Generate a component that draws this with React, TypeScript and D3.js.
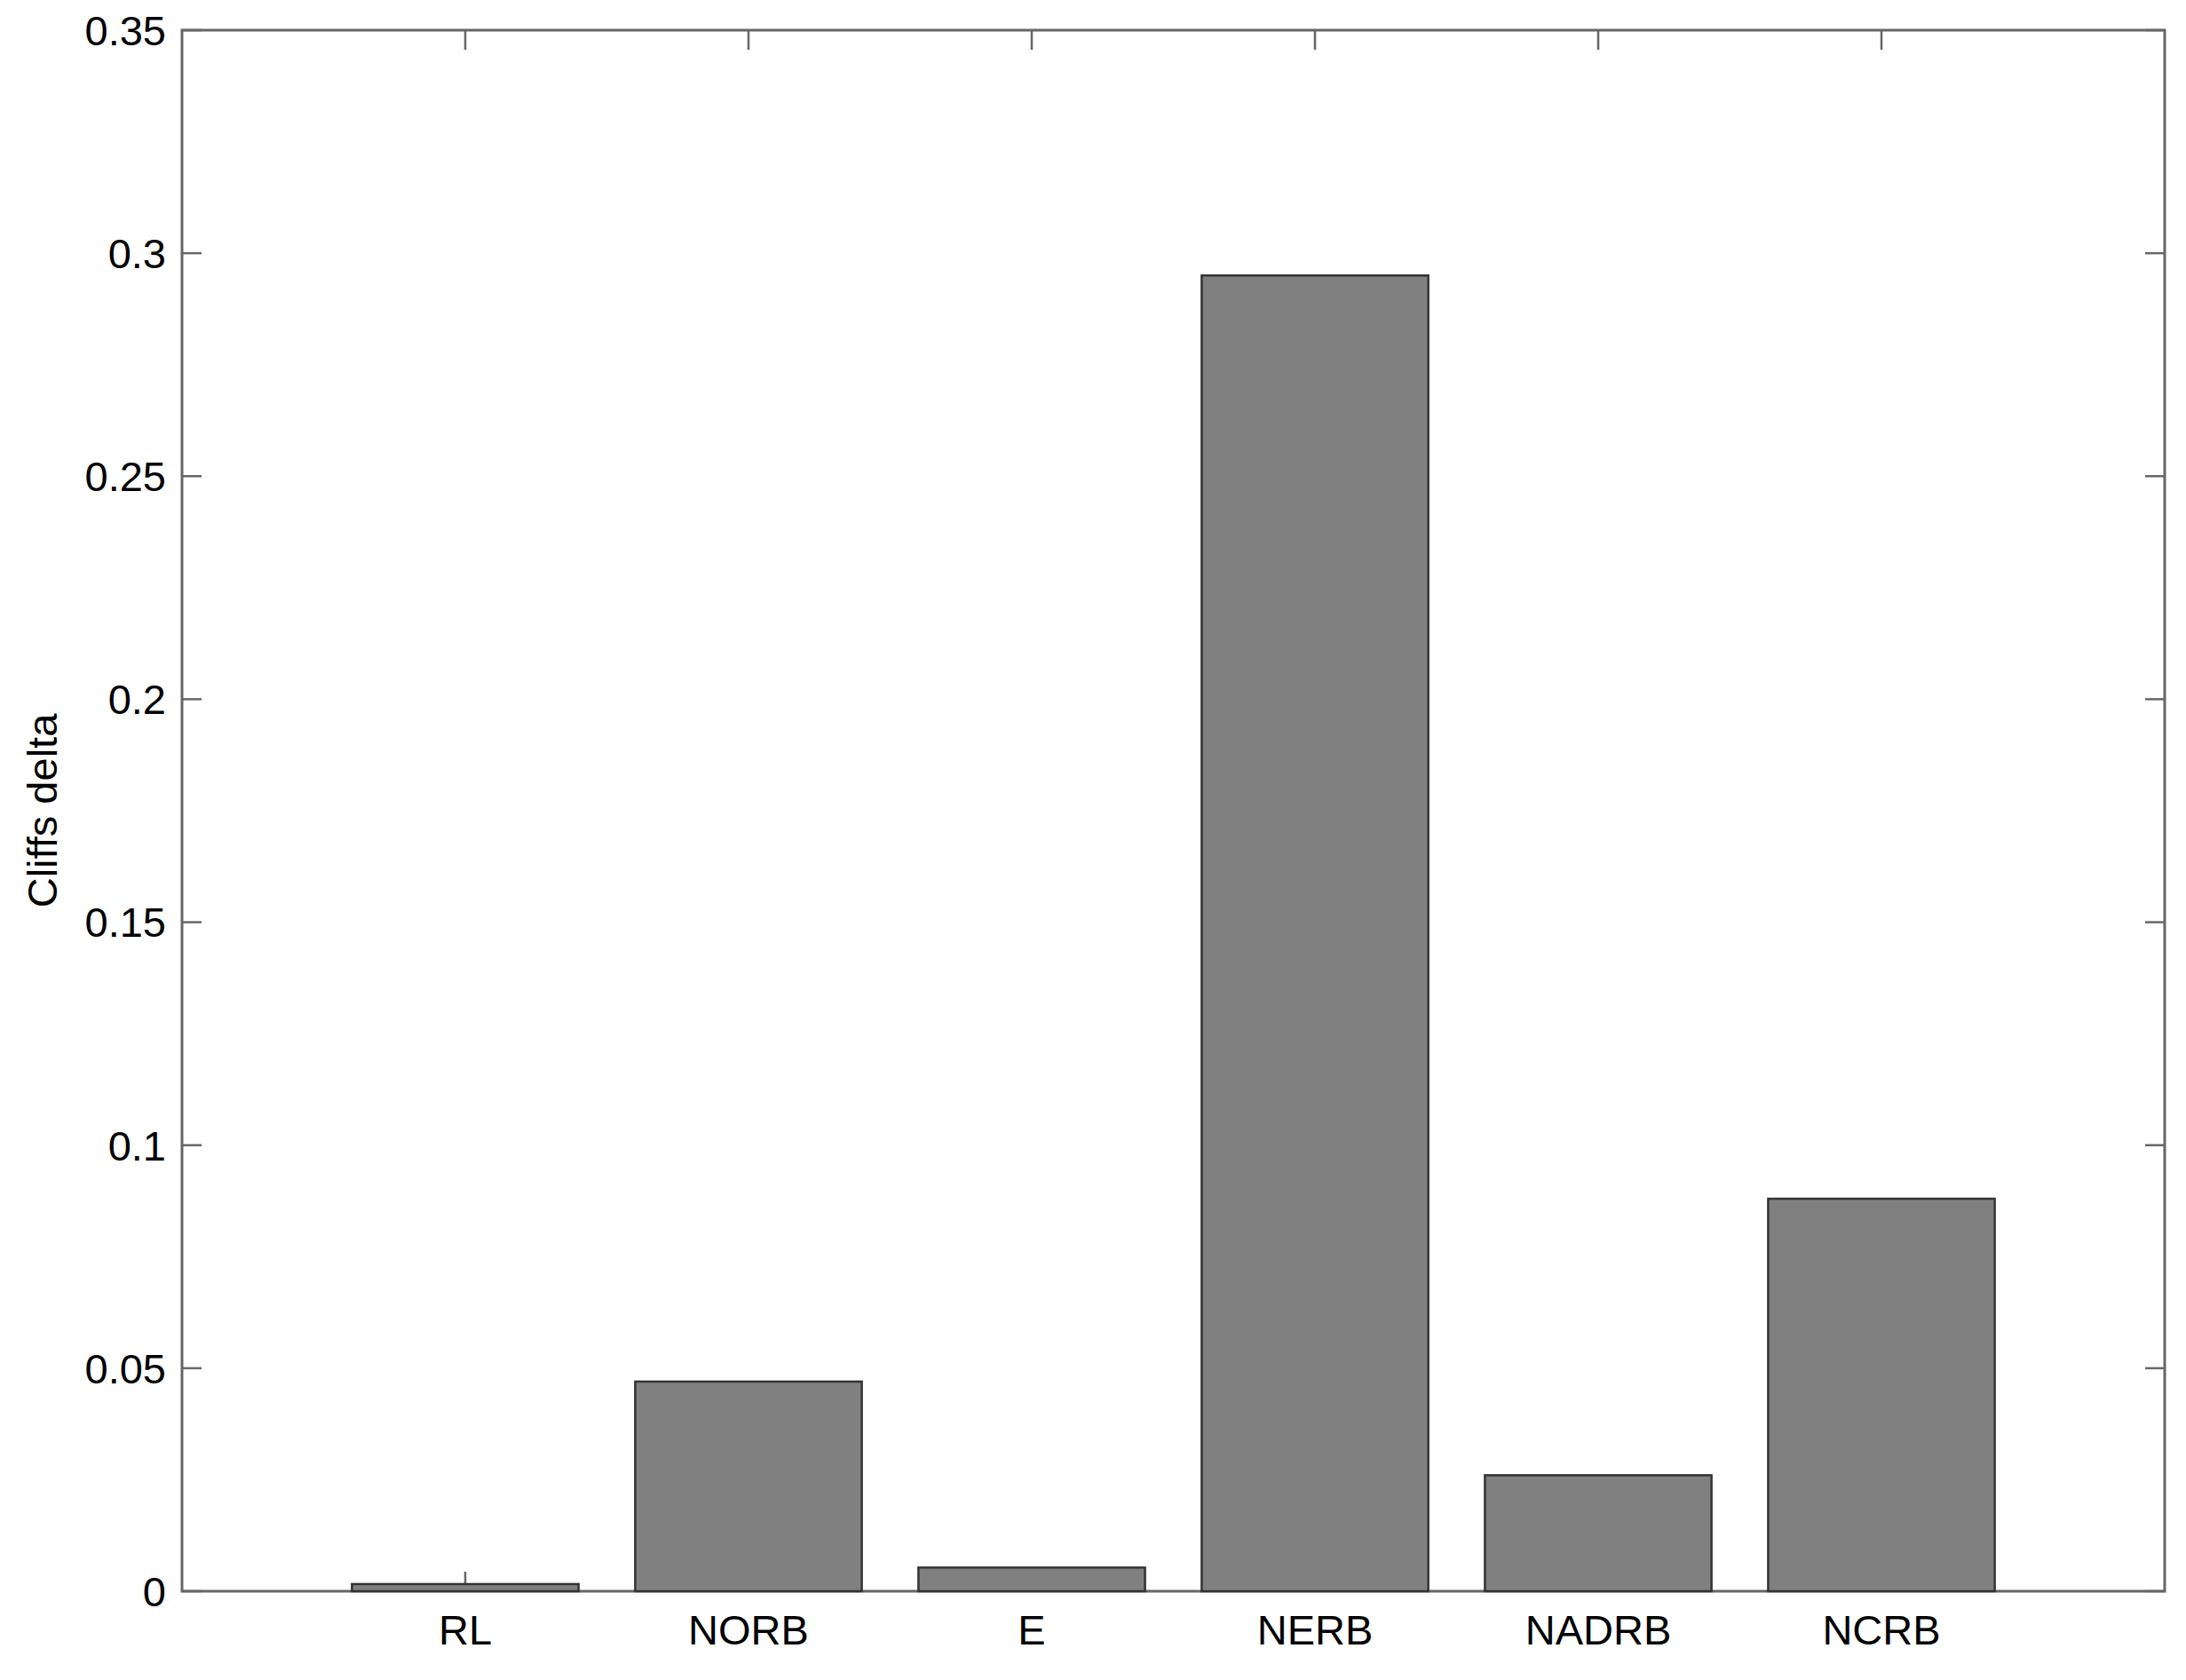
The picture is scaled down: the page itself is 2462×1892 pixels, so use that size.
import React, { useEffect, useRef } from 'react'
import * as d3 from 'd3'

const categories = ['RL', 'NORB', 'E', 'NERB', 'NADRB', 'NCRB']
const values = [0.0016, 0.047, 0.0053, 0.295, 0.026, 0.088]
const yTicks = [0, 0.05, 0.1, 0.15, 0.2, 0.25, 0.3, 0.35]
const yLabel = 'Cliffs delta'

export default function App() {
  const svgRef = useRef<SVGSVGElement | null>(null)

  useEffect(() => {
    const svg = d3.select(svgRef.current)
    svg.selectAll('*').remove()

    const width = 2462
    const height = 1892
    const left = 205
    const right = 2438
    const top = 34
    const bottom = 1792
    const tick = 22
    const font = '"Liberation Sans", Arial, sans-serif'
    const axisColor = '#666'

    // MATLAB style: bars at 1..n, xlim [0, n+1]
    const x = d3
      .scaleLinear()
      .domain([0, categories.length + 1])
      .range([left, right])
    const y = d3.scaleLinear().domain([0, 0.35]).range([bottom, top])
    const barW = (x(1) - x(0)) * 0.8

    svg
      .append('rect')
      .attr('width', width)
      .attr('height', height)
      .attr('fill', '#fff')

    const g = svg.append('g')

    // ticks (under the bars)
    yTicks.forEach((t) => {
      g.append('line')
        .attr('x1', left)
        .attr('x2', left + tick)
        .attr('y1', y(t))
        .attr('y2', y(t))
        .attr('stroke', axisColor)
        .attr('stroke-width', 2.5)
      g.append('line')
        .attr('x1', right)
        .attr('x2', right - tick)
        .attr('y1', y(t))
        .attr('y2', y(t))
        .attr('stroke', axisColor)
        .attr('stroke-width', 2.5)
      g.append('text')
        .attr('x', left - 18)
        .attr('y', y(t))
        .attr('dy', '0.36em')
        .attr('text-anchor', 'end')
        .attr('font-family', font)
        .attr('font-size', 47)
        .attr('fill', '#000')
        .text(String(t))
    })

    categories.forEach((c, i) => {
      const cx = x(i + 1)
      g.append('line')
        .attr('x1', cx)
        .attr('x2', cx)
        .attr('y1', bottom)
        .attr('y2', bottom - tick)
        .attr('stroke', axisColor)
        .attr('stroke-width', 2.5)
      g.append('line')
        .attr('x1', cx)
        .attr('x2', cx)
        .attr('y1', top)
        .attr('y2', top + tick)
        .attr('stroke', axisColor)
        .attr('stroke-width', 2.5)
      g.append('text')
        .attr('x', cx)
        .attr('y', bottom + 60)
        .attr('text-anchor', 'middle')
        .attr('font-family', font)
        .attr('font-size', 47)
        .attr('fill', '#000')
        .text(c)
    })

    // frame
    g.append('rect')
      .attr('x', left)
      .attr('y', top)
      .attr('width', right - left)
      .attr('height', bottom - top)
      .attr('fill', 'none')
      .attr('stroke', axisColor)
      .attr('stroke-width', 3)

    // bars
    g.selectAll('.bar')
      .data(values)
      .enter()
      .append('rect')
      .attr('class', 'bar')
      .attr('x', (_d, i) => x(i + 1) - barW / 2)
      .attr('y', (d) => y(d))
      .attr('width', barW)
      .attr('height', (d) => y(0) - y(d))
      .attr('fill', '#808080')
      .attr('stroke', '#333')
      .attr('stroke-width', 2.5)

    g.append('text')
      .attr('transform', `translate(47,${(top + bottom) / 2}) rotate(-90)`)
      .attr('dy', '0.36em')
      .attr('text-anchor', 'middle')
      .attr('font-family', font)
      .attr('font-size', 47)
      .attr('fill', '#000')
      .text(yLabel)
  }, [])

  return (
    <svg
      ref={svgRef}
      width={2462}
      height={1892}
      style={{ position: 'absolute', left: 0, top: 0, display: 'block' }}
    ></svg>
  )
}
